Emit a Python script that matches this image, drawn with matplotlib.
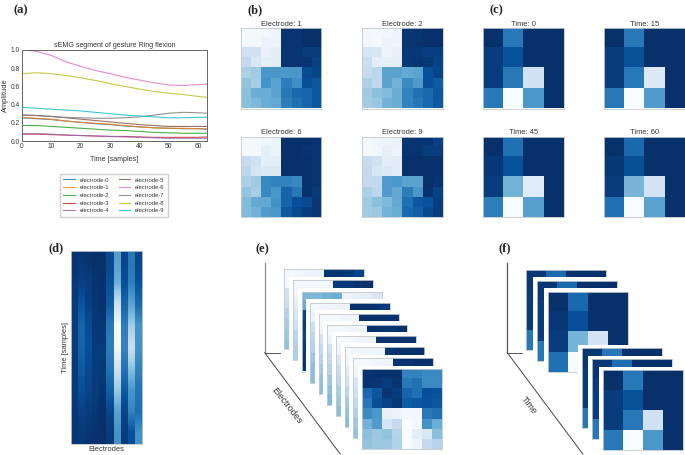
import numpy as np
import matplotlib
matplotlib.use("Agg")
import matplotlib.pyplot as plt

W, H = 685, 455
plt.rcParams['font.family'] = ['Liberation Sans', 'DejaVu Sans']

# --- panel (a): amplitude traces ---
samples = [0, 5, 10, 15, 20, 25, 30, 35, 40, 45, 50, 55, 60, 63]
electrode_0 = [.255, .245, .235, .22, .205, .19, .18, .165, .155, .145, .14, .135, .135, .13]
electrode_1 = [.26, .25, .24, .22, .205, .195, .185, .17, .155, .145, .14, .14, .135, .13]
electrode_2 = [.17, .17, .16, .15, .14, .13, .12, .115, .105, .095, .09, .085, .085, .085]
electrode_3 = [.075, .075, .07, .065, .06, .055, .05, .05, .045, .04, .04, .04, .04, .045]
electrode_4 = [.08, .08, .075, .065, .06, .055, .05, .045, .04, .035, .03, .03, .03, .03]
electrode_5 = [.285, .28, .27, .255, .24, .225, .21, .195, .18, .17, .16, .16, .16, .16]
electrode_6 = [1.0, .985, .94, .87, .82, .775, .74, .70, .67, .64, .615, .61, .62, .625]
electrode_7 = [.285, .28, .27, .26, .255, .25, .25, .255, .265, .285, .305, .315, .31, .305]
electrode_8 = [.74, .75, .74, .72, .695, .665, .63, .60, .57, .545, .525, .51, .49, .48]
electrode_9 = [.37, .36, .35, .34, .33, .315, .30, .285, .275, .265, .255, .255, .26, .262]
traces = [electrode_0, electrode_1, electrode_2, electrode_3, electrode_4,
          electrode_5, electrode_6, electrode_7, electrode_8, electrode_9]
trace_names = [f"electrode-{i}" for i in range(10)]

# --- panel (b): 8x8 images, 0 = white, 1 = navy ---
b_titles = ["Electrode: 1", "Electrode: 2", "Electrode: 6", "Electrode: 9"]
b_1 = [[.02, .02, .03, .05, .98, .98, 1, 1],
       [.02, .02, .07, .05, .98, .98, 1, 1],
       [.2, .2, .07, .1, .98, .98, .95, .95],
       [.25, .15, .1, .1, .98, .98, .98, .93],
       [.33, .37, .6, .6, .6, .6, .9, .92],
       [.4, .35, .62, .55, .7, .63, .88, .85],
       [.42, .5, .5, .55, .72, .78, .8, .85],
       [.42, .45, .5, .52, .7, .75, .8, .85]]
b_2 = [[.03, .02, .03, .04, .98, .98, 1, 1],
       [.03, .02, .06, .05, .98, .98, 1, 1],
       [.17, .15, .04, .08, .97, .97, .94, .94],
       [.22, .1, .09, .09, .97, .98, .97, .93],
       [.24, .28, .55, .55, .52, .55, .88, .92],
       [.33, .27, .55, .48, .65, .58, .88, .83],
       [.37, .42, .44, .5, .68, .75, .78, .85],
       [.36, .39, .48, .5, .68, .72, .78, .84]]
b_6 = [[.02, .03, .05, .06, 1, 1, 1, .98],
       [.01, .02, .1, .06, 1, 1, .98, .98],
       [.24, .2, .1, .1, 1, 1, 1, .98],
       [.28, .17, .14, .13, 1, 1, 1, .98],
       [.33, .37, .66, .68, .68, .66, 1, .98],
       [.4, .35, .66, .6, .8, .72, 1, .96],
       [.44, .52, .52, .62, .8, .88, .9, .97],
       [.44, .48, .58, .6, .85, .9, .95, .97]]
b_9 = [[.02, .04, .06, .07, .98, .98, .98, .93],
       [.02, .03, .09, .06, .98, .98, .95, .95],
       [.24, .2, .1, .12, 1, 1, 1, 1],
       [.26, .16, .13, .12, 1, 1, 1, 1],
       [.25, .26, .58, .6, .55, .55, 1, .98],
       [.33, .28, .58, .52, .7, .6, .98, .93],
       [.37, .42, .45, .52, .75, .85, .87, .95],
       [.36, .38, .48, .5, .78, .82, .9, .95]]
b_images = [b_1, b_2, b_6, b_9]

# --- panel (c): 4x4 images ---
c_titles = ["Time: 0", "Time: 15", "Time: 45", "Time: 60"]
c_0 = [[1, .72, 1, 1], [.95, .87, 1, 1], [.95, .72, .2, 1], [.72, 0, .6, 1]]
c_15 = [[1, .72, 1, 1], [.95, .87, 1, 1], [.95, .72, .14, 1], [.72, 0, .58, 1]]
c_45 = [[1, .75, 1, 1], [.97, .87, 1, 1], [.95, .48, .12, 1], [.7, 0, .56, 1]]
c_60 = [[1, .78, 1, 1], [.97, .88, 1, 1], [.95, .47, .18, 1], [.75, 0, .55, 1]]
c_images = [c_0, c_15, c_45, c_60]

# --- panel (d): one list per electrode, read at nine heights ---
d_0 = [.98, .97, .96, .95, .95, .96, .96, .97, .97]
d_1 = [.97, .94, .86, .80, .80, .84, .88, .93, .96]
d_2 = [.98, .95, .94, .89, .88, .90, .92, .95, .98]
d_3 = [1, .98, .97, .97, .96, .95, .95, .97, .99]
d_4 = [1, .99, .99, .97, .96, .96, .98, 1, 1]
d_5 = [.9, .88, .84, .72, .70, .74, .82, .92, .96]
d_6 = [.56, .5, .22, .02, .02, .2, .38, .55, .62]
d_7 = [.92, .88, .8, .7, .68, .74, .84, .92, .95]
d_8 = [.72, .7, .55, .36, .22, .42, .6, .68, .88]
d_9 = [.92, .88, .78, .62, .62, .68, .74, .76, .62]
d_columns = [d_0, d_1, d_2, d_3, d_4, d_5, d_6, d_7, d_8, d_9]

# --- panel (e): stacked frames, only top row and left column show ---
e_tops = [[.02, .03, .05, .06, .98, .98, .96, .92],
          [.03, .02, .02, .03, .96, .96, .98, 1],
          [.45, .45, .48, .5, .05, .08, .09, .15],
          [.02, .04, .05, .06, .99, .99, .99, .96],
          [.02, .02, .04, .05, 1, 1, .99, .99],
          [.02, .02, .04, .05, 1, .98, .98, 1],
          [.02, .03, .04, .05, .98, .98, .98, .98],
          [.02, .03, .04, .05, .98, 1, 1, .99],
          [.02, .03, .04, .05, .98, .98, 1, 1]]
e_lefts = [[.02, .02, .2, .22, .3, .35, .38, .4],
           [.02, .03, .1, .15, .2, .28, .32, .33],
           [.45, .5, .92, .95, .93, .97, .98, .98],
           [.02, .05, .22, .28, .3, .38, .42, .42],
           [.02, .04, .18, .25, .3, .36, .4, .42],
           [.02, .04, .2, .25, .3, .38, .42, .45],
           [.02, .04, .15, .22, .28, .34, .38, .42],
           [.02, .04, .12, .2, .28, .36, .4, .44],
           [.02, .04, .16, .2, .26, .32, .36, .4]]
e_front = [[.98, 1, 1, 1, .68, .68, .65, .65],
           [.98, .98, .95, .98, .72, .75, .65, .65],
           [.78, .85, .98, .95, .8, .75, .88, .87],
           [.72, .88, .93, .97, .83, .85, .87, .85],
           [.65, .6, .08, .06, .03, .03, .72, .75],
           [.48, .58, .17, .25, 0, .02, .62, .5],
           [.42, .38, .4, .3, 0, .1, .15, .42],
           [.4, .38, .38, .32, 0, .05, .25, .3]]

# --- panel (f): back frames, the third one and the front one are whole ---
f_tops = [[.97, .78, 1, 1], [.97, .78, 1, 1], None, [.97, .72, 1, 1], [.97, .76, 1, 1]]
f_lefts = [[.97, .95, .95, .72], [.97, .95, .95, .72], None, [.97, .95, .95, .72], [.97, .95, .95, .72]]
f_middle = c_60
f_front = c_0

SPINE = '#c4c8cc'


def px_axes(fig, x0, y0, x1, y1, z=1):
    return fig.add_axes([x0 / W, 1 - y1 / H, (x1 - x0) / W, (y1 - y0) / H], zorder=z)


def show_image(ax, img):
    ax.imshow(img, cmap='Blues', vmin=0, vmax=1, aspect='auto', interpolation='nearest')
    ax.set_xticks([])
    ax.set_yticks([])
    for s in ax.spines.values():
        s.set_color(SPINE)
        s.set_linewidth(0.6)


def strip_frame(top, left):
    n = len(top)
    frame = np.full((n, n), np.nan)
    frame[:, 0] = left
    frame[0, :] = top
    return frame


def stacked(fig, frames, xs, ys, size):
    for i, (frame, x, y) in enumerate(zip(frames, xs, ys)):
        z = 2 + 2 * i
        # white margin of the frame hides the one behind it
        pad = px_axes(fig, x - 4, y - 3.6, x + size, y + size, z=z)
        pad.set_axis_off()
        pad.add_patch(plt.Rectangle((0, 0), 1, 1, color='white', transform=pad.transAxes))
        show_image(px_axes(fig, x, y, x + size, y + size, z=z + 1), frame)


def main():
    fig = plt.figure(figsize=(W / 100, H / 100), dpi=100)

    # pixel overlay for the hand-drawn axes of (e) and (f)
    over = px_axes(fig, 0, 0, W, H, z=0)
    over.set_xlim(0, W)
    over.set_ylim(H, 0)
    over.set_axis_off()
    for x0 in (264.7, 507.3):
        over.plot([x0, x0], [262.7, 352.7], color='#8c8c8c' if x0 < 300 else '#555555', lw=0.9)
        over.plot([x0, x0 + 15], [352.7, 352.7], color='#555555', lw=0.7)
        over.plot([x0, x0 + 75.5], [352.7, 454], color='#444444', lw=0.7)
    over.text(287, 405.5, "Electrodes", rotation=-52, fontsize=6.6, color='#333333',
              ha='center', va='center', rotation_mode='anchor')
    over.text(529, 405.5, "Time", rotation=-52, fontsize=6.6, color='#333333',
              ha='center', va='center', rotation_mode='anchor')

    # (a)
    ax = px_axes(fig, 22, 50, 207, 141)
    for y, name in zip(traces, trace_names):
        ax.plot(samples, y, lw=0.8, alpha=0.85, label=name)
    ax.set_xlim(0, 63)
    ax.set_ylim(0, 1)
    ax.set_xticks(range(0, 61, 10))
    ax.set_yticks([0, .2, .4, .6, .8, 1.0])
    ax.tick_params(labelsize=4.8, length=0, pad=1.5, colors='#333333')
    ax.set_title("sEMG segment of gesture Ring flexion", fontsize=5.0, pad=2.5, color='#333333')
    ax.set_xlabel("Time [samples]", fontsize=5.1, labelpad=4, color='#333333')
    ax.set_ylabel("Amplitude", fontsize=5.4, labelpad=1, color='#333333')
    for s in ax.spines.values():
        s.set_color('#666666')
        s.set_linewidth(0.7)
    ax.legend(ncol=2, loc='upper center', bbox_to_anchor=(0.497, -0.33), fontsize=4.2,
              borderpad=0.6, labelspacing=0.45, columnspacing=1.6, handlelength=2.0,
              fancybox=False, edgecolor='#d0d0d0', framealpha=1, labelcolor='#333333')

    # (b) and (c)
    b_xs, c_xs, rows = (240.7, 362), (483, 604), (28, 136.5)
    for k in range(4):
        for xs, imgs, titles in ((b_xs, b_images, b_titles), (c_xs, c_images, c_titles)):
            x, y = xs[k % 2], rows[k // 2]
            a = px_axes(fig, x, y, x + 80.5, y + 80.5)
            show_image(a, imgs[k])
            a.set_title(titles[k], fontsize=5.4, pad=1.5, color='#333333')

    # (d): each electrode column blended along time only
    d = px_axes(fig, 70.6, 251, 142.2, 444.3)
    for i, col in enumerate(d_columns):
        d.imshow(np.array(col)[:, None], cmap='Blues', vmin=0, vmax=1, aspect='auto',
                 interpolation='bilinear', extent=(i, i + 1, len(col) - 1, 0))
    d.set_xlim(0, 10)
    d.set_ylim(len(d_0) - 1, 0)
    d.set_xticks([])
    d.set_yticks([])
    for s in d.spines.values():
        s.set_color(SPINE)
        s.set_linewidth(0.6)
    d.set_xlabel("Electrodes", fontsize=5.4, labelpad=1.5, color='#333333')
    d.set_ylabel("Time [samples]", fontsize=5.4, labelpad=1.5, color='#333333')

    # (e)
    e_frames = [strip_frame(t, l) for t, l in zip(e_tops, e_lefts)] + [e_front]
    e_xs = [284.3 + 8.6 * i for i in range(10)]
    e_ys = [269.3 + 11.1 * i for i in range(10)]
    stacked(fig, e_frames, e_xs, e_ys, 80)

    # (f)
    f_frames = [strip_frame(f_tops[0], f_lefts[0]), strip_frame(f_tops[1], f_lefts[1]), f_middle,
                strip_frame(f_tops[3], f_lefts[3]), strip_frame(f_tops[4], f_lefts[4]), f_front]
    f_xs = [526.3, 537.3, 548.3, 581.7, 592.3, 603.3]
    f_ys = [270, 281, 292, 348.3, 359.3, 370.3]
    stacked(fig, f_frames, f_xs, f_ys, 80)

    # panel letters
    letters = {'(a)': (14, 13), '(b)': (247, 13), '(c)': (490, 13),
               '(d)': (49, 251), '(e)': (256, 252), '(f)': (499, 251)}
    for lab, (x, y) in letters.items():
        fig.text(x / W, 1 - y / H, lab, family=['Liberation Serif', 'DejaVu Serif'],
                 weight='bold', fontsize=9, ha='left', va='baseline', color='#222222')

    fig.savefig('out.png', dpi=100)


if __name__ == "__main__":
    main()
